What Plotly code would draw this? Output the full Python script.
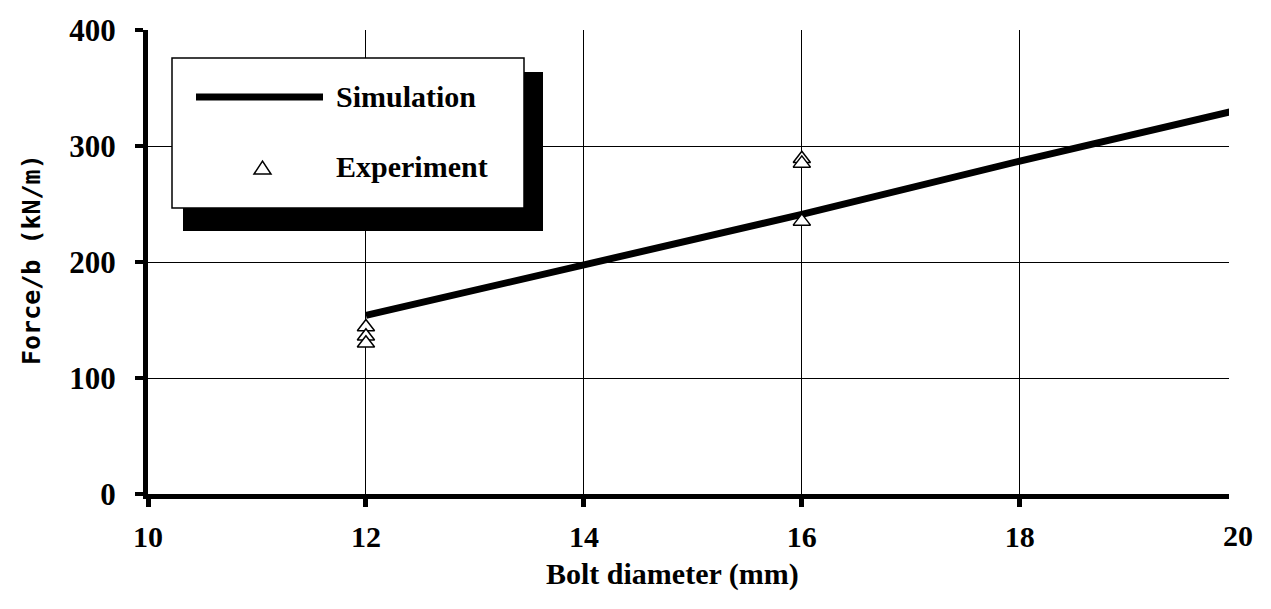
import plotly.graph_objects as go

# ---------------- data ----------------
sim_x = [12, 14, 16, 18, 20]
sim_y = [154, 198, 241, 287, 331]

exp_x = [12, 12, 12, 16, 16, 16]
exp_y = [144, 136, 130, 289, 285, 235]

x_ticks = [10, 12, 14, 16, 18]
y_ticks = [0, 100, 200, 300, 400]

# ---------------- layout geometry (pixels) ----------------
W, H = 1271, 609
L, R, T, B = 148, 1229, 30, 494   # plot area edges in px


def X(px):
    return (px - L) / (R - L)


def Y(py):
    return (B - py) / (B - T)


FONT = "Liberation Serif"

fig = go.Figure()

fig.add_trace(go.Scatter(
    x=sim_x, y=sim_y, mode="lines", name="Simulation",
    line=dict(color="black", width=7), showlegend=False,
))
fig.add_trace(go.Scatter(
    x=exp_x, y=exp_y, mode="markers", name="Experiment",
    marker=dict(symbol="triangle-up", size=15, color="white",
                line=dict(color="black", width=1.5)),
    showlegend=False, cliponaxis=False,
))

shapes = [
    # legend shadow
    dict(type="rect", xref="paper", yref="paper", layer="above",
         x0=X(183), x1=X(543), y0=Y(231), y1=Y(72),
         fillcolor="black", line=dict(width=0)),
    # legend box
    dict(type="rect", xref="paper", yref="paper", layer="above",
         x0=X(172), x1=X(524), y0=Y(208), y1=Y(58),
         fillcolor="white", line=dict(color="black", width=1.5)),
    # legend line sample
    dict(type="line", xref="paper", yref="paper", layer="above",
         x0=X(196), x1=X(323), y0=Y(97), y1=Y(97),
         line=dict(color="black", width=7)),
    # legend triangle sample
    dict(type="path", xref="paper", yref="paper", layer="above",
         path=f"M {X(254)} {Y(174)} L {X(271)} {Y(174)} L {X(262.5)} {Y(161)} Z",
         fillcolor="white", line=dict(color="black", width=1.5)),
]

annotations = [
    dict(text="<b>Simulation</b>", xref="paper", yref="paper",
         x=X(334), y=Y(97), xanchor="left", yanchor="middle",
         showarrow=False, font=dict(family=FONT, size=30, color="black")),
    dict(text="<b>Experiment</b>", xref="paper", yref="paper",
         x=X(334), y=Y(166), xanchor="left", yanchor="middle",
         showarrow=False, font=dict(family=FONT, size=30, color="black")),
    # x tick label at the cropped right edge
    dict(text="<b>20</b>", xref="paper", yref="paper",
         x=X(1238), y=Y(535), xanchor="center", yanchor="middle",
         showarrow=False, font=dict(family=FONT, size=30, color="black")),
    # axis titles
    dict(text="<b>Bolt diameter (mm)</b>", xref="paper", yref="paper",
         x=X(672), y=Y(574), xanchor="center", yanchor="middle",
         showarrow=False, font=dict(family=FONT, size=30, color="black")),
    dict(text="<b>Force/b (kN/m)</b>", xref="paper", yref="paper",
         x=X(31), y=Y(260), xanchor="center", yanchor="middle",
         textangle=-90, showarrow=False,
         font=dict(family="DejaVu Sans Mono", size=25, color="black")),
]

fig.update_layout(
    width=W, height=H,
    margin=dict(l=L, r=W - R, t=T, b=H - B, pad=0),
    plot_bgcolor="white", paper_bgcolor="white",
    shapes=shapes, annotations=annotations,
    showlegend=False,
    xaxis=dict(
        range=[10, 19.92], tickvals=x_ticks,
        ticktext=[f"<b>{v}</b>" for v in x_ticks],
        showgrid=True, gridcolor="black", gridwidth=1,
        showline=True, linecolor="black", linewidth=5,
        ticks="outside", ticklen=8, tickwidth=5, tickcolor="black",
        tickfont=dict(family=FONT, size=30, color="black"),
        zeroline=False, ticklabelstandoff=4,
    ),
    yaxis=dict(
        range=[0, 400], tickvals=y_ticks,
        ticktext=[f"<b>{v}</b>" for v in y_ticks],
        showgrid=True, gridcolor="black", gridwidth=1,
        showline=True, linecolor="black", linewidth=5,
        ticks="outside", ticklen=8, tickwidth=4, tickcolor="black",
        tickfont=dict(family=FONT, size=31, color="black"),
        zeroline=False, ticklabelstandoff=13,
    ),
)

fig.write_html("out.html", config={"displayModeBar": False},
               post_script="document.body.style.margin='0';")
